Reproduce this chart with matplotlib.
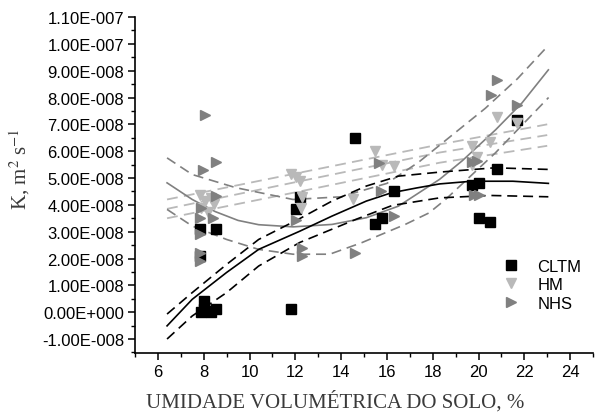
import numpy as np
import matplotlib
matplotlib.use("Agg")
import matplotlib.pyplot as plt
from matplotlib.ticker import MultipleLocator, FuncFormatter

plt.rcParams['font.family'] = ['Liberation Sans', 'DejaVu Sans']
plt.rcParams['mathtext.fontset'] = 'stix'

# scatter data (K in 1e-8 m2/s)
cltm_x = [7.85, 8.55, 7.85, 8.0, 7.9, 8.1, 8.3, 8.55, 8.0, 11.8, 12.05, 12.2,
          14.6, 15.5, 15.8, 16.3, 19.7, 20.0, 20.8, 21.7, 20.0, 20.5]
cltm_y = [3.1, 3.1, 2.1, 0.4, 0.0, 0.05, 0.0, 0.1, 0.1, 0.12, 3.85, 4.3,
          6.5, 3.3, 3.5, 4.5, 4.75, 4.8, 5.35, 7.15, 3.5, 3.35]

hm_x = [7.85, 8.3, 8.45, 7.9, 8.05, 8.2, 11.8, 12.05, 12.2, 12.3, 12.25,
        14.5, 15.5, 15.8, 16.3, 20.8, 19.7, 20.5, 19.95, 19.7, 21.7]
hm_y = [4.35, 4.25, 4.05, 3.9, 4.15, 3.75, 5.15, 5.05, 4.9, 4.3, 3.9,
        4.2, 6.0, 5.5, 5.45, 7.27, 6.2, 6.33, 5.8, 5.5, 7.05]

nhs_x = [8.05, 7.97, 8.55, 8.55, 7.9, 8.4, 7.85, 7.85, 7.85, 7.85, 12.05,
         12.3, 12.3, 14.6, 15.65, 15.75, 16.3, 20.8, 20.55, 21.7, 19.7, 19.95,
         19.8, 20.0]
nhs_y = [7.35, 5.3, 5.6, 4.32, 3.9, 3.5, 3.52, 2.9, 2.2, 1.9, 3.45,
         2.4, 2.1, 2.2, 5.57, 4.5, 3.57, 8.65, 8.1, 7.73, 5.6, 5.62,
         4.35, 4.35]

# fitted curves
cltm_fit_x = [6.4, 7.5, 9.0, 10.4, 12.2, 13.6, 15.1, 16.2, 17.3, 18.3, 19.7, 21.5, 23.05]
cltm_fit_y = [-0.51, 0.48, 1.48, 2.34, 3.02, 3.58, 4.14, 4.45, 4.63, 4.78, 4.88, 4.88, 4.8]
cltm_up_x = [6.4, 7.5, 9.0, 10.4, 12.2, 13.6, 15.1, 16.5, 18.3, 20.7, 23.05]
cltm_up_y = [-0.07, 0.73, 1.78, 2.71, 3.49, 4.14, 4.7, 5.07, 5.22, 5.38, 5.32]
cltm_lo_x = [6.4, 7.5, 9.0, 10.4, 12.2, 14.65, 16.24, 18.3, 20.5, 23.05]
cltm_lo_y = [-1.0, -0.14, 0.73, 1.72, 2.6, 3.46, 3.98, 4.26, 4.35, 4.3]

nhs_fit_x = [6.4, 7.5, 8.5, 9.5, 10.4, 11.9, 13.6, 15.1, 16.5, 18.3, 19.3, 20.75, 21.9, 23.05]
nhs_fit_y = [4.82, 4.2, 3.75, 3.42, 3.26, 3.18, 3.27, 3.52, 3.95, 4.95, 5.65, 6.8, 7.8, 9.03]
nhs_up_x = [6.4, 7.5, 9.4, 11.9, 14.0, 16.0, 17.4, 18.85, 20.3, 21.7, 23.06]
nhs_up_y = [5.75, 5.13, 4.64, 4.2, 4.3, 4.8, 5.6, 6.6, 7.6, 8.7, 9.95]
nhs_lo_x = [6.4, 7.5, 9.0, 10.4, 11.9, 13.5, 14.9, 16.8, 17.84, 18.56, 20.74, 23.06]
nhs_lo_y = [3.83, 3.21, 2.71, 2.34, 2.16, 2.16, 2.59, 3.27, 3.7, 4.2, 5.94, 8.0]

hm_x_line = [6.4, 12.2, 18.3, 23.0]
hm_top = [4.2, 5.2, 6.25, 7.0]
hm_mid = [3.85, 4.88, 5.95, 6.6]
hm_bot = [3.5, 4.5, 5.57, 6.2]

s = 1e-8
fig = plt.figure(figsize=(5.96, 4.14), dpi=100)
ax = fig.add_axes([0.2265, 0.145, 0.7685, 0.8115])

c_hm = '#b9b9b9'
c_nhs = '#808080'
dash = (6, 3.5)

def arr(v):
    return np.array(v) * s

for yy in (hm_top, hm_mid, hm_bot):
    ax.plot(hm_x_line, arr(yy), color=c_hm, lw=1.3, dashes=dash)
ax.plot(nhs_up_x, arr(nhs_up_y), color=c_nhs, lw=1.2, dashes=dash)
ax.plot(nhs_lo_x, arr(nhs_lo_y), color=c_nhs, lw=1.2, dashes=dash)
ax.plot(nhs_fit_x, arr(nhs_fit_y), color=c_nhs, lw=1.2)
ax.plot(cltm_up_x, arr(cltm_up_y), color='black', lw=1.2, dashes=dash)
ax.plot(cltm_lo_x, arr(cltm_lo_y), color='black', lw=1.2, dashes=dash)
ax.plot(cltm_fit_x, arr(cltm_fit_y), color='black', lw=1.2)

ax.plot(cltm_x, arr(cltm_y), 's', color='black', ms=6.5, label='CLTM', zorder=5)
ax.plot(hm_x, arr(hm_y), 'v', color=c_hm, ms=7.5, label='HM', zorder=5)
ax.plot(nhs_x, arr(nhs_y), '>', color=c_nhs, ms=7.5, label='NHS', zorder=5)

ax.set_xlim(5, 25)
ax.set_ylim(-1.52e-8, 1.1e-7)
ax.xaxis.set_major_locator(MultipleLocator(2))
ax.xaxis.set_minor_locator(MultipleLocator(1))
ax.yaxis.set_major_locator(MultipleLocator(1e-8))
ax.yaxis.set_minor_locator(MultipleLocator(0.5e-8))

def fmt(v, pos):
    if abs(v) < 1e-20:
        return '0.00E+000'
    e = int(np.floor(np.log10(abs(v))))
    m = v / 10 ** e
    sign = '-' if e < 0 else '+'
    return '%.2fE%s%03d' % (m, sign, abs(e))

ax.yaxis.set_major_formatter(FuncFormatter(fmt))
for sp in ('top', 'right'):
    ax.spines[sp].set_visible(False)
for sp in ('left', 'bottom'):
    ax.spines[sp].set_linewidth(1.2)
ax.tick_params(which='major', direction='out', length=5, width=1.1, labelsize=12, pad=3)
ax.tick_params(which='minor', direction='out', length=3, width=1.0)

ax.set_xlabel('UMIDADE VOLUMÉTRICA DO SOLO, %', family='Liberation Serif',
              fontsize=15, color='#3a3a3a')
ax.xaxis.set_label_coords(0.437, -0.11)
ax.set_ylabel(r'K, m$^{2}$ s$^{-1}$', family='Liberation Serif', fontsize=15,
              color='#3a3a3a')
ax.yaxis.set_label_coords(-0.225, 0.55)

ax.legend(loc='upper left', bbox_to_anchor=(0.78, 0.305), frameon=False,
          fontsize=12, handletextpad=1.0, labelspacing=0.2, borderpad=0,
          handlelength=1.2)

fig.savefig('out.png', dpi=100)
